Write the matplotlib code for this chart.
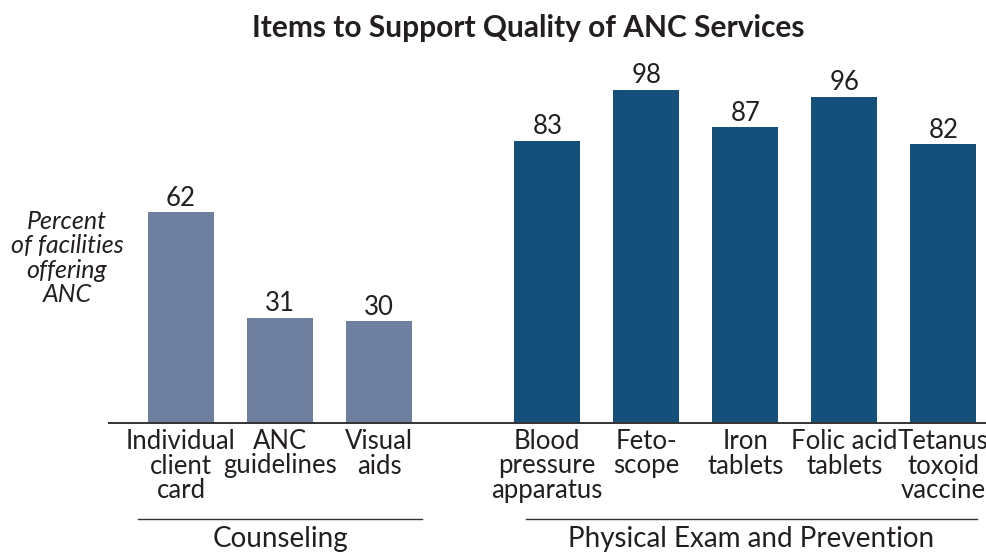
import matplotlib.pyplot as plt
import numpy as np

plt.rcParams['font.family'] = ['Lato', 'DejaVu Sans']

# data
counseling_labels = ["Individual\nclient\ncard", "ANC\nguidelines", "Visual\naids"]
counseling_values = [62, 31, 30]
exam_labels = ["Blood\npressure\napparatus", "Feto-\nscope", "Iron\ntablets",
               "Folic acid\ntablets", "Tetanus\ntoxoid\nvaccine"]
exam_values = [83, 98, 87, 96, 82]
group_names = ["Counseling", "Physical Exam and Prevention"]

col_counsel = "#6e7fa0"
col_exam = "#15507a"

W, H = 987, 553
fig = plt.figure(figsize=(W / 100, H / 100), dpi=100)

base_px = 423        # baseline (pixels from top)
unit_px = 3.4        # pixels per percent
ax = fig.add_axes([0, (H - base_px) / H, 1, 100 * unit_px / H])

step = 99.0
x1 = np.arange(len(counseling_values))
x2 = np.arange(len(exam_values)) + len(counseling_values) + 0.7
ax.set_xlim(-181 / step, (W - 181) / step)
ax.set_ylim(0, 100)

w = 66 / step
ax.bar(x1, counseling_values, width=w, color=col_counsel)
ax.bar(x2, exam_values, width=w, color=col_exam)

for xs, vals in [(x1, counseling_values), (x2, exam_values)]:
    for x, v in zip(xs, vals):
        ax.annotate(str(v), (x, v), xytext=(0, 1), textcoords='offset points',
                    ha='center', va='bottom', fontsize=18.5, color='#231f20')

# baseline
ax.plot([(108 - 181) / step, (W - 181) / step], [0, 0], color='#333333', lw=1.4,
        clip_on=False, solid_capstyle='butt')

# category labels, one text per line
for xs, labs in [(x1, counseling_labels), (x2, exam_labels)]:
    for x, lab in zip(xs, labs):
        for i, line in enumerate(lab.split("\n")):
            ax.annotate(line, (x, H - 449 - i * 24.5),
                        xycoords=('data', 'figure pixels'),
                        ha='center', va='baseline', fontsize=18.5,
                        color='#231f20')

# group brackets
tr = ax.get_xaxis_transform()
yfrac = lambda p: (base_px - p) / (100 * unit_px)
spans = [(138, 422), (526, 977)]
for (a, b), name in zip(spans, group_names):
    xa, xb = (a - 181) / step, (b - 181) / step
    ax.plot([xa, xb], [yfrac(519), yfrac(519)], color='#333333', lw=1.0,
            transform=tr, clip_on=False)
    ax.text((xa + xb) / 2, yfrac(539), name, transform=tr, ha='center',
            va='center', fontsize=20, color='#231f20')

ax.axis('off')

fig.text(528 / W, 1 - 28 / H, "Items to Support Quality of ANC Services",
         ha='center', va='center', fontsize=21.5, fontweight='bold', color='#231f20')
fig.text(67 / W, 1 - 258 / H, "Percent\nof facilities\noffering\nANC",
         ha='center', va='center', fontsize=18, style='italic', color='#231f20',
         linespacing=1.08)

fig.savefig("out.png", dpi=100)
